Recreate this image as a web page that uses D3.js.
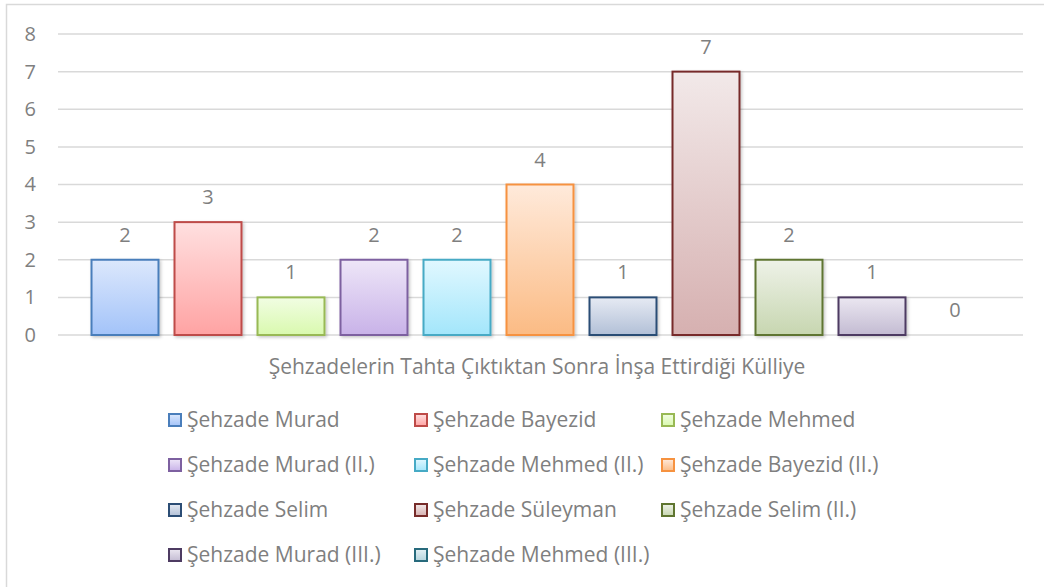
<!DOCTYPE html>
<html>
<head>
<meta charset="utf-8">
<script src="https://cdn.jsdelivr.net/npm/d3@7"></script>
<style>
  html, body { margin: 0; padding: 0; background: #fff; }
  svg { display: block; }
  text { font-family: "Open Sans", sans-serif; fill: #7f7f7f; }
</style>
</head>
<body>
<svg id="chart" width="1044" height="587"></svg>
<script>
// Series: one bar per prince, a single category
const seriesNames = [
  "Şehzade Murad", "Şehzade Bayezid", "Şehzade Mehmed",
  "Şehzade Murad (II.)", "Şehzade Mehmed (II.)", "Şehzade Bayezid (II.)",
  "Şehzade Selim", "Şehzade Süleyman", "Şehzade Selim (II.)",
  "Şehzade Murad (III.)", "Şehzade Mehmed (III.)"
];
const values = [2, 3, 1, 2, 2, 4, 1, 7, 2, 1, 0];
const categoryLabel = "Şehzadelerin Tahta Çıktıktan Sonra İnşa Ettirdiği Külliye";
const yTicks = [0, 1, 2, 3, 4, 5, 6, 7, 8];

// Fill gradient (top, bottom) and outline for each series
const gradTop = ["#dce8fc", "#ffe0e0", "#f1fde3", "#eee6f8", "#e1f8ff", "#ffeadb", "#e6eaf3", "#f2e9e9", "#eef2e8", "#ebe7f1", "#e3f0f4"];
const gradBottom = ["#a3c3f9", "#ffa3a3", "#d9f9ae", "#c8b2e8", "#a3e6fb", "#fbbb84", "#b2c0d7", "#d6b0b0", "#c7d6b0", "#c3bbd2", "#b3d3dc"];
const strokes = ["#4a7ebb", "#be4b48", "#98b954", "#7d60a0", "#46aac5", "#f69240", "#2c4d75", "#772c2a", "#5f7530", "#4d3b62", "#276a7c"];

const svg = d3.select("#chart");
const defs = svg.append("defs");

seriesNames.forEach((_, i) => {
  const g = defs.append("linearGradient")
    .attr("id", "grad" + i)
    .attr("x1", 0).attr("y1", 0).attr("x2", 0).attr("y2", 1);
  g.append("stop").attr("offset", "0%").attr("stop-color", gradTop[i]);
  g.append("stop").attr("offset", "100%").attr("stop-color", gradBottom[i]);
});

const shadow = defs.append("filter").attr("id", "shadow")
  .attr("x", "-20%").attr("y", "-20%").attr("width", "140%").attr("height", "140%");
shadow.append("feDropShadow")
  .attr("dx", 1.5).attr("dy", 1.5).attr("stdDeviation", 1.5)
  .attr("flood-color", "#000").attr("flood-opacity", 0.22);

// Chart frame
svg.append("rect")
  .attr("x", 6.5).attr("y", 4.5)
  .attr("width", 1100).attr("height", 700)
  .attr("fill", "#fff")
  .attr("stroke", "#d9d9d9").attr("stroke-width", 1.5);

// Scales
const plotLeft = 58, plotRight = 1023;
const y = d3.scaleLinear().domain([0, 8]).range([335, 34]);
const x = d3.scaleBand()
  .domain(seriesNames)
  .range([83.5, 996.5])
  .paddingInner(0.193)
  .paddingOuter(0.0965);

// Gridlines
svg.append("g")
  .selectAll("line")
  .data(yTicks)
  .join("line")
  .attr("x1", plotLeft).attr("x2", plotRight)
  .attr("y1", d => y(d)).attr("y2", d => y(d))
  .attr("stroke", "#d9d9d9").attr("stroke-width", 1.5);

// Y axis labels
const yAxis = d3.axisLeft(y).tickValues(yTicks).tickSize(0).tickPadding(0);
const yg = svg.append("g").attr("transform", "translate(36,0)").call(yAxis);
yg.select(".domain").remove();
yg.selectAll("text")
  .attr("fill", "#7f7f7f")
  .style("font-size", "20px")
  .style("font-family", "'Open Sans', sans-serif");

// Bars
svg.append("g")
  .selectAll("rect")
  .data(values)
  .join("rect")
  .attr("x", (d, i) => x(seriesNames[i]))
  .attr("y", d => y(d))
  .attr("width", x.bandwidth())
  .attr("height", d => y(0) - y(d))
  .attr("fill", (d, i) => `url(#grad${i})`)
  .attr("stroke", (d, i) => strokes[i])
  .attr("stroke-width", 2)
  .attr("filter", "url(#shadow)")
  .style("display", d => d > 0 ? null : "none");

// Value labels
svg.append("g")
  .selectAll("text")
  .data(values)
  .join("text")
  .attr("x", (d, i) => x(seriesNames[i]) + x.bandwidth() / 2)
  .attr("y", d => y(d) - 25)
  .attr("dy", "0.35em")
  .attr("text-anchor", "middle")
  .style("font-size", "20px")
  .text(d => d);

// Category label
svg.append("text")
  .attr("x", 537).attr("y", 367)
  .attr("dy", "0.35em")
  .attr("text-anchor", "middle")
  .style("font-size", "21px")
  .text(categoryLabel);

// Legend: three columns, four rows
const colX = [168, 414, 661];
const rowY = [420, 465, 510, 555];
const legend = svg.append("g")
  .selectAll("g")
  .data(seriesNames)
  .join("g")
  .attr("transform", (d, i) => `translate(${colX[i % 3]},${rowY[Math.floor(i / 3)]})`);

legend.append("rect")
  .attr("x", 1).attr("y", -6)
  .attr("width", 12).attr("height", 12)
  .attr("fill", (d, i) => `url(#grad${i})`)
  .attr("stroke", (d, i) => strokes[i])
  .attr("stroke-width", 2);

legend.append("text")
  .attr("x", 19).attr("y", 0)
  .attr("dy", "0.35em")
  .style("font-size", "21px")
  .text(d => d);
</script>
</body>
</html>
